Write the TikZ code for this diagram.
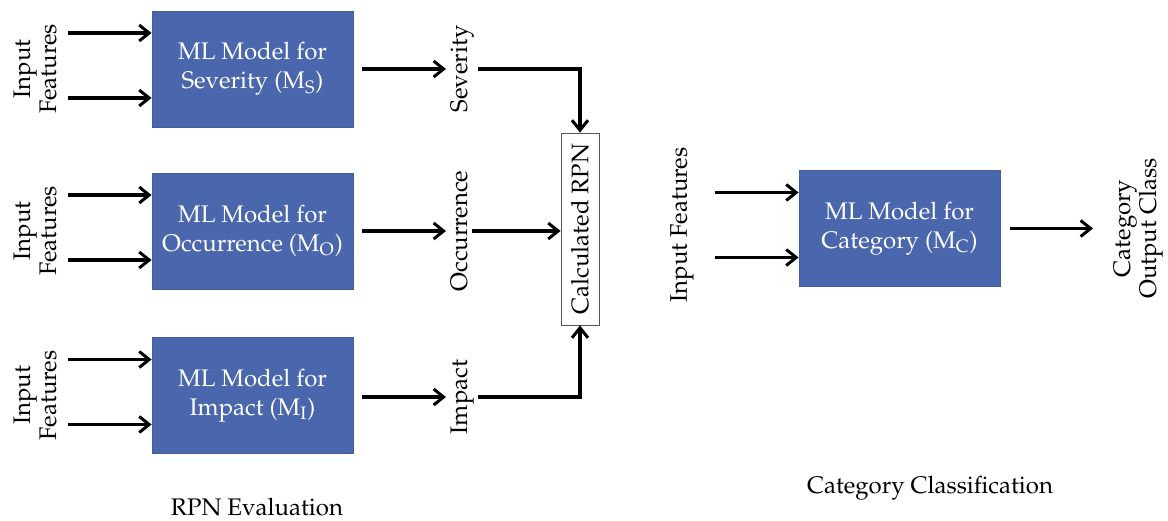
\documentclass[tikz,border=0pt]{standalone}
\usepackage[T1]{fontenc}
\usepackage{mathpazo}
\definecolor{rpnBlue}{HTML}{4A66AC}
\definecolor{rpnGrey}{HTML}{555555}
\usetikzlibrary{
	arrows.meta,
	positioning,
	calc
}
\tikzset{
	modelo/.style={
		fill=rpnBlue,
		draw=rpnBlue!90!black,
		text=white,
		align=center,
		inner sep=0pt,
		minimum width=100.5pt,
		minimum height=58pt,
		font=\fontsize{12}{14.5}\selectfont
	},
	etiqueta/.style={
		rotate=90,
		align=center,
		inner sep=2pt,
		font=\fontsize{12}{13}\selectfont
	},
	caja/.style={
		draw=rpnGrey,
		thin,
		rotate=90,
		inner sep=0pt,
		minimum width=96pt,
		minimum height=19pt,
		font=\fontsize{12}{14}\selectfont
	},
	titulo/.style={
		font=\fontsize{12}{14}\selectfont
	},
	flecha/.style={
		-{Straight Barb[length=5pt,width=8pt,line width=1.5pt]},
		line width=1.6pt,
		black
	}
}

\begin{document}
\begin{tikzpicture}[x=0.5pt,y=-0.5pt]
		\useasboundingbox (0,0) rectangle (1168,520);
		% modelos RPN
		\node[modelo] (ms) at (252.5,69) {ML Model for\\Severity (M\textsubscript{S})};
		\node[modelo] (mo) at (252.5,231) {ML Model for\\Occurrence (M\textsubscript{O})};
		\node[modelo] (mi) at (252.5,395.5) {ML Model for\\Impact (M\textsubscript{I})};
		\foreach \m in {ms,mo,mi}{
			\node[etiqueta] (\m-lab) at ($(\m.center)+(-217.5,0)$) {Input\\Features};
			\coordinate (\m-a) at ($(\m.west)+(-84,-36)$);
			\coordinate (\m-b) at ($(\m.west)+(-84,29)$);
			\draw[flecha] (\m-a) -- (\m-a -| \m.west);
			\draw[flecha] (\m-b) -- (\m-b -| \m.west);
		}
		% salidas
		\node[etiqueta, anchor=north] (sev) at (446,69) {Severity};
		\node[etiqueta, anchor=north] (occ) at (446,231) {Occurrence};
		\node[etiqueta, anchor=north] (imp) at (446,397) {Impact};
		\draw[flecha, shorten <=9pt/2] (ms.east) -- (ms.east -| sev.north);
		\draw[flecha, shorten <=9pt/2] (mo.east) -- (mo.east -| occ.north);
		\draw[flecha, shorten <=9pt/2] (mi.east |- imp.center) -- (imp.north);
		\node[caja] (rpn) at (580,229) {Calculated RPN};
		\draw[flecha] (sev.south) -| (rpn.east);
		\draw[flecha] (occ.south) -- (occ.south -| rpn.north);
		\draw[flecha] (imp.south) -| (rpn.west);
		% clasificacion de categoria
		\node[modelo] (mc) at (899.5,228.5) {ML Model for\\Category (M\textsubscript{C})};
		\node[etiqueta] (mc-lab) at (682,225) {Input Features};
		\coordinate (mc-a) at ($(mc.west)+(-84,-36)$);
		\coordinate (mc-b) at ($(mc.west)+(-84,29)$);
		\draw[flecha] (mc-a) -- (mc-a -| mc.west);
		\draw[flecha] (mc-b) -- (mc-b -| mc.west);
		\node[etiqueta, anchor=north, font=\fontsize{12}{12}\selectfont] (cat) at (1109,228.5) {Category\\Output Class};
		\draw[flecha, shorten <=10pt/2, shorten >=8pt] (mc.east) -- (cat.north);
		% titulos
		\node[titulo] (t-rpn) at (257,507) {RPN Evaluation};
		\node[titulo] (t-cat) at (930,488) {Category Classification};
	\end{tikzpicture}
\end{document}
